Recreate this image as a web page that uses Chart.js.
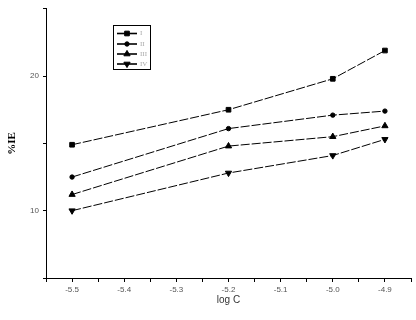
<!DOCTYPE html>
<html>
<head>
<meta charset="utf-8">
<script src="https://cdn.jsdelivr.net/npm/chart.js@4/dist/chart.umd.min.js"></script>
<style>
html,body{margin:0;padding:0;background:#fff;}
#wrap{width:416px;height:320px;position:relative;}
</style>
</head>
<body>
<div id="wrap"><canvas id="c" width="416" height="320"></canvas></div>
<script>
// Data
const logC = [-5.5, -5.2, -5.0, -4.9];
const seriesNames = ['I', 'II', 'III', 'IV'];
const ieI   = [14.9, 17.5, 19.8, 21.9];
const ieII  = [12.5, 16.1, 17.1, 17.4];
const ieIII = [11.2, 14.8, 15.5, 16.3];
const ieIV  = [10.0, 12.8, 14.1, 15.3];
const yLabelled = [10, 20];
const xLabelled = [-5.5, -5.4, -5.3, -5.2, -5.1, -5.0, -4.9];

const allSeries = [ieI, ieII, ieIII, ieIV];
const styles = [
  {pointStyle:'rect', pointRadius:3.3, rotation:0},
  {pointStyle:'circle', pointRadius:2.2, rotation:0},
  {pointStyle:'triangle', pointRadius:3.6, rotation:0},
  {pointStyle:'triangle', pointRadius:3.6, rotation:180}
];

const datasets = allSeries.map((vals, i) => ({
  label: seriesNames[i],
  data: logC.map((x, j) => ({x: x, y: vals[j]})),
  borderColor: '#000',
  backgroundColor: '#000',
  borderWidth: 1,
  borderDash: [9, 2],
  pointStyle: styles[i].pointStyle,
  pointRadius: styles[i].pointRadius,
  pointRotation: styles[i].rotation,
  pointBorderWidth: 1,
  pointBackgroundColor: '#000',
  pointBorderColor: '#000',
  tension: 0
}));

const legendBox = {
  id: 'legendBox',
  afterDraw(chart) {
    const ctx = chart.ctx;
    ctx.save();
    ctx.strokeStyle = '#000';
    ctx.lineWidth = 1;
    ctx.setLineDash([]);
    ctx.strokeRect(113.5, 25.5, 37, 44);
    const rows = [33.5, 44, 54, 64];
    chart.data.datasets.forEach((ds, i) => {
      const y = rows[i];
      ctx.beginPath();
      ctx.setLineDash([]);
      ctx.lineWidth = 1.6;
      ctx.strokeStyle = '#000';
      ctx.moveTo(117, y);
      ctx.lineTo(137, y);
      ctx.stroke();
      ctx.fillStyle = '#000';
      ctx.lineWidth = 1;
      Chart.helpers.drawPoint(ctx, {
        pointStyle: ds.pointStyle,
        rotation: ds.pointRotation,
        radius: ds.pointRadius,
        borderWidth: 1
      }, 127, y);
      ctx.fillStyle = '#aaa';
      ctx.font = '7px "Liberation Serif"';
      ctx.textBaseline = 'middle';
      ctx.textAlign = 'left';
      ctx.fillText(ds.label, 140, y);
    });
    ctx.restore();
  }
};

new Chart(document.getElementById('c'), {
  type: 'line',
  data: {datasets: datasets},
  plugins: [legendBox],
  options: {
    responsive: false,
    animation: false,
    devicePixelRatio: 1,
    layout: {padding: {top: 7, right: 1, left: 0, bottom: 0}},
    plugins: {legend: {display: false}, tooltip: {enabled: false}},
    scales: {
      x: {
        type: 'linear',
        min: -5.55,
        max: -4.85,
        afterFit(s) { s.height = 42; },
        ticks: {
          stepSize: 0.05,
          autoSkip: false,
          maxRotation: 0,
          padding: 3,
          color: '#555',
          font: {family: 'Liberation Sans', size: 8},
          callback(v) {
            const hit = xLabelled.find(t => Math.abs(t - v) < 1e-6);
            return hit === undefined ? '' : hit.toFixed(1);
          }
        },
        grid: {drawOnChartArea: false, drawTicks: true, tickLength: 4, color: '#000', tickColor: '#000'},
        border: {color: '#000', width: 1},
        title: {display: true, text: 'log C', color: '#333', font: {family: 'Liberation Sans', size: 10}, padding: {top: 2, bottom: 14}}
      },
      y: {
        min: 5,
        max: 25,
        afterFit(s) { s.width = 46; },
        ticks: {
          stepSize: 5,
          padding: 4,
          color: '#555',
          font: {family: 'Liberation Sans', size: 8},
          callback(v) { return yLabelled.includes(v) ? String(v) : ''; }
        },
        grid: {drawOnChartArea: false, drawTicks: true, tickLength: 3, color: '#000', tickColor: '#000'},
        border: {color: '#000', width: 1},
        title: {display: true, text: '%IE', color: '#000', font: {family: 'Liberation Serif', size: 11, weight: 'bold'}, padding: {top: 6, bottom: 0}}
      }
    }
  }
});
</script>
</body>
</html>
